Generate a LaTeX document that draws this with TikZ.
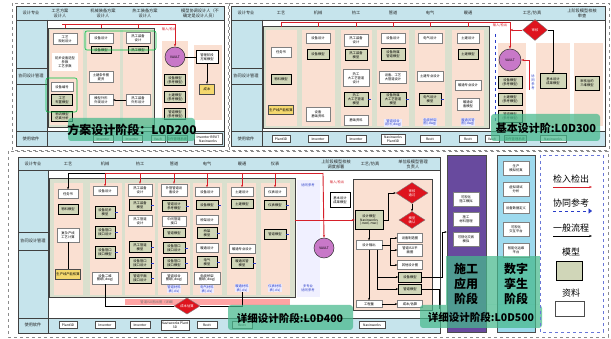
\documentclass[tikz,border=0pt]{standalone}
\usepackage{fontspec}
\newfontfamily\cjk{Noto Sans CJK SC}
\usetikzlibrary{shapes.geometric,shadows,arrows.meta}

\definecolor{hdrblue}{RGB}{198,228,236}
\definecolor{panelgray}{RGB}{218,224,206}
\definecolor{colpink}{RGB}{250,224,210}
\definecolor{mdlgreen}{RGB}{208,214,184}
\definecolor{linkred}{RGB}{214,32,42}
\definecolor{checkred}{RGB}{222,20,30}
\definecolor{vaultpurple}{RGB}{200,120,200}
\definecolor{bandteal}{RGB}{70,185,140}
\definecolor{buildpurple}{RGB}{104,74,158}
\definecolor{twincyan}{RGB}{158,218,238}
\definecolor{costyellow}{RGB}{244,216,110}
\definecolor{refblue}{RGB}{40,60,200}

\newcommand\tinycjk{\cjk\fontsize{3.3}{3.9}\selectfont}
\newcommand\hdrcjk{\cjk\fontsize{4.2}{4.9}\selectfont}

\tikzset{
  sz/.style 2 args={minimum width=#1pt, minimum height=#2pt},
  doc/.style={draw=black!50, fill=white, line width=0.3pt, font=\tinycjk, align=center, inner sep=0.3pt, sz={22}{9}},
  mdl/.style={draw=black, fill=mdlgreen, line width=0.5pt, font=\tinycjk, align=center, inner sep=0.3pt, sz={22}{10},
    drop shadow={shadow xshift=0.8pt, shadow yshift=-0.8pt, opacity=1, fill=black!80}},
  cost/.style={doc, draw=black!70, fill=costyellow},
  soft/.style={draw=black!70, fill=white, line width=0.4pt, font=\tinycjk, align=center, inner sep=0.3pt, sz={20}{7}},
  hdrtext/.style={font=\hdrcjk, align=center, text=black!85, inner sep=0pt},
  panel/.style={draw=black!75, fill=panelgray, line width=0.6pt},
  boxline/.style={draw=black!75, line width=0.5pt},
  vault/.style={circle, draw=black!80, fill=vaultpurple, line width=0.5pt, minimum size=20pt, inner sep=0pt, font=\tinycjk},
  check/.style={diamond, draw=black!50, fill=checkred, text=white, font=\tinycjk, align=center, inner sep=0pt},
  note/.style={fill=blue!8, text=refblue, font=\tinycjk, align=center, inner sep=0.4pt},
  redtext/.style={text=linkred, font=\tinycjk, inner sep=0pt},
  band/.style={fill=bandteal, fill opacity=0.72, rounded corners=3pt},
  redlink/.style={draw=linkred, line width=0.9pt},
  flow/.style={draw=black, line width=0.45pt, -{Stealth[length=2.4pt,width=2pt]}},
  refline/.style={draw=refblue, dashed, line width=0.35pt},
}

\begin{document}
\begin{tikzpicture}[x=1pt, y=-1pt]
\useasboundingbox[fill=white] (0,0) rectangle (611,339);

% ---------- 方案设计阶段 ----------
\draw[black!45, dashed, line width=0.3pt] (12,3) rectangle (228,150);
\fill[hdrblue] (16,6) rectangle (224,20);
\fill[hdrblue] (16,20) rectangle (47,146);
\fill[hdrblue] (47,131) rectangle (224,146);
\draw[boxline] (16,6) rectangle (224,146) (16,20) -- (224,20) (47,20) -- (47,146)
  (16,131) -- (224,131) (16,68) -- (47,68) (16,84) -- (47,84);
\node[hdrtext] (aSpecHd) at (31,13) {设计专业};
\node[hdrtext] (aProcHd) at (60,13) {工艺方案\\设计人};
\node[hdrtext] (aMechHd) at (103,13) {机械装备方案\\设计人};
\node[hdrtext] (aHeatHd) at (145,13) {热工装备方案\\设计人};
\node[hdrtext] (aCoordHd) at (200,13) {模型协调设计人（不\\确定是设计人员）};
\node[hdrtext] (aMgmtHd) at (31,76) {协同设计管理};
\node[hdrtext] (aSoftHd) at (31,139) {使用软件};

\draw[panel] (48,28) rectangle (154,127);
\fill[colpink] (50,30) rectangle (83,125);
\fill[colpink] (87,30) rectangle (120,125);
\fill[colpink] (123,30) rectangle (152,125);
\fill[colpink] (162,41) rectangle (188,120);
\fill[colpink] (194,45) rectangle (222,120);

\node[doc, sz={24}{11}] (aPlan) at (65,39) {工艺\\规划设计};
\node[doc, draw=none, sz={26}{18}] (aParam) at (65,62) {初步设备选型\\参数\\工艺参数};
\node[doc] (aCode) at (62,87) {设备编号};
\node[mdl, sz={21}{11}] (aLayout) at (62,100) {工艺\\布置模型};
\node[mdl, sz={21}{10}] (aFlowSim) at (62,116) {物流模型\\仿真分析};
\node[doc, sz={24}{10}] (aEquip) at (101,38) {设备设计};
\node[mdl, sz={20}{7}] (aEquipM) at (101,50) {设备模型};
\node[doc, sz={24}{11}] (aCivil) at (101,77) {土建条件图\\提资};
\node[doc, sz={24}{11}] (aShape) at (101,100) {模型外形\\外观设计};
\node[doc, sz={24}{11}] (aHeat) at (138,38) {热工装备\\设计};
\node[mdl, sz={20}{7}] (aHeatM) at (138,50) {热工模型};
\node[doc, sz={24}{11}] (aHeatS) at (138,100) {热工装备\\外形设计};
\draw[flow] (aHeatS) -- (aShape);
\draw[green!50!teal, line width=0.6pt, rounded corners=2pt] (85,31) rectangle (156,50) (46,78) rectangle (77,112);

\node[redtext] (aIO) at (169,29) {输入/检出};
\node[vault] (aVault) at (175,57) {VAULT};
\node[mdl, sz={21}{11}] (aRef1) at (175,80) {设备模型\\(参考模型)};
\node[mdl, sz={21}{11}] (aRef2) at (175,97) {土建模型\\(参考模型)};
\node[mdl, sz={21}{11}] (aRef3) at (175,114) {管道模型\\(参考模型)};
\node[mdl, fill=white, sz={22}{13}] (aStageM) at (207,57) {管理阶段\\方案模型};
\node[cost, sz={15}{10}] (aCost) at (207,89) {成本};
\draw[line width=0.6pt] (aVault) -- (aStageM);
\draw[flow] (aStageM) -- (aCost);

\coordinate (aBusL) at (62,24);
\coordinate (aBusR) at (175,24);
\draw[redlink] (aBusL) -- (aBusR);
\foreach \n in {aPlan,aEquip,aHeat} \draw[redlink] (\n.north |- aBusL) -- ++(0,4);
\draw[redlink, -{Stealth[length=3pt]}] (aBusR) -- (aVault.north);

\node[soft] (aSw1) at (103,139) {Inventor};
\node[soft] (aSw2) at (132,139) {Inventor};
\node[soft, sz={14}{7}] (aSw3) at (158,139) {Vault};
\node[soft, fill=bandteal!40, sz={19}{7}] (aSw4) at (177,139) {文件管理系统};
\node[soft, sz={28}{11}] (aSw5) at (208,139) {Inventor REVIT\\Navisworks};

\fill[band] (68,118) rectangle (195,141);
\node[font=\cjk\bfseries\fontsize{12}{12}\selectfont] (aStage) at (132,130) {方案设计阶段：L0D200};

% ---------- 基本设计阶段 ----------
\draw[black!45, dashed, line width=0.3pt] (229,3) rectangle (609,150);
\fill[hdrblue] (231,6) rectangle (605,20);
\fill[hdrblue] (231,20) rectangle (262,146);
\fill[hdrblue] (262,131) rectangle (605,146);
\draw[boxline] (231,6) rectangle (605,146) (231,20) -- (605,20) (262,20) -- (262,146)
  (231,131) -- (605,131) (231,68) -- (262,68) (231,84) -- (262,84);
\node[hdrtext] (bSpecHd) at (246,13) {设计专业};
\node[hdrtext] (bProcHd) at (281,13) {工艺};
\node[hdrtext] (bMechHd) at (318,13) {机械};
\node[hdrtext] (bHeatHd) at (356,13) {热工};
\node[hdrtext] (bPipeHd) at (393,13) {管道};
\node[hdrtext] (bElecHd) at (430,13) {电气};
\node[hdrtext] (bHvacHd) at (468,13) {暖通};
\node[hdrtext] (bSimHd) at (532,13) {工艺/仿真};
\node[hdrtext] (bCheckHd) at (582,13) {上阶段模型校核\\审查};
\node[hdrtext] (bMgmtHd) at (246,76) {协同设计管理};
\node[hdrtext] (bSoftHd) at (246,139) {使用软件};

\draw[panel] (263,26) rectangle (489,128);
\fill[colpink] (266,30) rectangle (297,126);
\fill[colpink] (302,30) rectangle (335,126);
\fill[colpink] (341,30) rectangle (372,126);
\fill[colpink] (377,30) rectangle (409,126);
\fill[colpink] (415,30) rectangle (445,126);
\fill[colpink] (452,30) rectangle (484,126);
\fill[colpink] (498,43) rectangle (526,126);
\fill[colpink] (536,43) rectangle (570,126);
\fill[colpink] (574,43) rectangle (603,126);

\node[doc, sz={20}{10}] (bTask) at (281,52) {任务书};
\node[mdl, sz={20}{10}] (bMat) at (281,79) {物料模型};
\node[cost, sz={25}{9}] (bCap) at (281,110) {生产线产能核算};
\node[doc, sz={24}{10}] (bEquip) at (318,38) {设备设计};
\node[mdl, sz={22}{10}] (bEquipM) at (318,54) {设备模型};
\node[doc, sz={24}{14}] (bEquipB) at (318,114) {设备\\基础资料};
\node[doc, sz={24}{12}] (bHeat) at (356,40) {热工装备\\设计};
\node[mdl, sz={22}{11}] (bHeatM) at (356,55) {热工装备\\模型};
\node[doc, sz={26}{17}] (bHeatP) at (356,78) {热工\\大工艺管道\\设计};
\node[mdl, sz={24}{14}] (bHeatPM) at (356,99) {热工\\大工艺管道\\模型};
\node[doc, sz={24}{10}] (bHeatB) at (356,120) {基础资料};
\node[doc, sz={24}{10}] (bPipe) at (393,38) {设备设计};
\node[mdl, sz={24}{12}] (bPipeM) at (393,54) {设备附属\\管道模型};
\node[doc, sz={27}{12}] (bPipeD) at (393,77) {设备、工艺\\大管道设计};
\node[mdl, sz={26}{14}] (bPipePM) at (393,99) {设备附属\\大工艺管道\\模型};
\node[note] (bPipeN) at (393,123) {管道综合\\设计(.dwg)};
\node[doc, sz={24}{10}] (bElec) at (430,38) {电气设计};
\node[doc, sz={26}{10}] (bElecD) at (430,76) {土建专业设计};
\node[mdl, sz={22}{12}] (bElecM) at (430,99) {电气设计\\模型};
\node[note] (bElecN) at (430,122) {电缆桥架\\图(.dwg)};
\node[doc, sz={22}{10}] (bCivil) at (468,38) {土建设计};
\node[mdl, sz={20}{10}] (bCivilM) at (468,54) {土建模型};
\node[doc, sz={26}{10}] (bHvac) at (468,85) {暖通专业设计};
\node[doc, sz={22}{12}] (bHvacM) at (468,104) {暖通设\\备模型};
\node[note] (bHvacN) at (468,122) {暖通风管\\图(.dwg)};
\foreach \n in {bHeatPM,bPipePM,bElecM} \draw[refline] (\n.east) -- ++(3,0);

\node[redtext] (bIO) at (500,25) {输入/检出};
\node[check, sz={25}{21}] (bChk) at (535,30) {审核};
\node[vault, minimum size=22pt] (bVault) at (510,60) {VAULT};
\node[mdl, sz={24}{12}] (bRef1) at (510,82) {设备模型\\(参考模型)};
\node[mdl, sz={24}{12}] (bRef2) at (510,99) {土建模型\\(参考模型)};
\node[mdl, sz={24}{12}] (bRef3) at (510,116) {管道模型\\(参考模型)};
\node[mdl, sz={26}{15}] (bBasic) at (553,81) {基本设计\\成果模型};
\node[mdl, sz={24}{14}] (bAudit) at (587,83) {审核后的\\三维模型};
\node[note, fill=none] (bRefN) at (533,82) {协\\同\\参\\考};

\coordinate (bBusL) at (281,22);
\coordinate (bBusR) at (510,22);
\coordinate (bTap) at (510,30);
\coordinate (bRet) at (529,90);
\coordinate (bRefT) at (495,34);
\coordinate (bRefB) at (495,122);
\draw[redlink] (bBusL) -- (bBusR);
\foreach \n in {bTask,bEquip,bHeat,bPipe,bElec,bCivil} \draw[redlink] (\n.north |- bBusL) -- ++(0,5);
\draw[redlink, -{Stealth[length=3pt]}] (bBusR) -- (bVault.north);
\draw[redlink, -{Stealth[length=3pt]}] (bChk.west) -- (bTap);
\draw[redlink, -{Stealth[length=3pt]}] (bRet) |- (bVault.east);
\draw[flow] (bChk.east) -| (bBasic.north);
\draw[refline] (bRefT) -- (bRefB);

\node[soft, sz={18}{7}] (bSw1) at (281,139) {Plant3D};
\node[soft] (bSw2) at (318,139) {Inventor};
\node[soft] (bSw3) at (356,139) {Inventor};
\node[soft, sz={24}{10}] (bSw4) at (393,139) {Navisworks\\Plant3D};
\node[soft] (bSw5) at (430,139) {Revit};
\node[soft, sz={18}{7}] (bSw6) at (468,139) {Revit};
\node[soft, sz={14}{7}] (bSw7) at (492,139) {Vault};
\node[soft, fill=bandteal!40, sz={22}{7}] (bSw8) at (515,139) {文件管理系统};
\node[soft, sz={26}{7}] (bSw9) at (553,139) {Navisworks};

\fill[band] (491,114) rectangle (600,141);
\node[font=\cjk\bfseries\fontsize{11}{11}\selectfont] (bStage) at (546,128) {基本设计阶:L0D300};

% ---------- 详细设计阶段 ----------
\draw[black!45, dashed, line width=0.3pt] (8,151) rectangle (608,337);
\fill[hdrblue] (18,157) rectangle (440,170);
\fill[hdrblue] (18,170) rectangle (48,333);
\fill[hdrblue] (48,318) rectangle (440,333);
\draw[boxline] (18,157) rectangle (440,333) (18,170) -- (440,170) (48,170) -- (48,333)
  (18,318) -- (440,318) (18,232) -- (48,232) (18,250) -- (48,250);
\node[hdrtext] (cSpecHd) at (33,164) {设计专业};
\node[hdrtext] (cProcHd) at (68,164) {工艺};
\node[hdrtext] (cMechHd) at (105,164) {机械};
\node[hdrtext] (cHeatHd) at (140,164) {热工};
\node[hdrtext] (cPipeHd) at (174,164) {管道};
\node[hdrtext] (cElecHd) at (207,164) {电气};
\node[hdrtext] (cHvacHd) at (242,164) {暖通};
\node[hdrtext] (cInstHd) at (275,164) {仪表};
\node[hdrtext] (cCheckHd) at (336,164) {上阶段模型校核\\调度部署};
\node[hdrtext] (cSimHd) at (370,164) {工艺/仿真};
\node[hdrtext] (cOwnerHd) at (413,164) {单位级模型管理\\负责人};
\node[hdrtext] (cMgmtHd) at (33,241) {协同设计管理};
\node[hdrtext] (cSoftHd) at (33,325) {使用软件};

\draw[panel] (49,178) rectangle (295,297);
\fill[colpink] (54,183) rectangle (83,295);
\fill[colpink] (90,183) rectangle (122,295);
\fill[colpink] (125,183) rectangle (155,295);
\fill[colpink] (158,183) rectangle (190,295);
\fill[colpink] (193,183) rectangle (222,295);
\fill[colpink] (227,183) rectangle (256,295);
\fill[colpink] (261,183) rectangle (290,295);
\fill[blue!6] (297,180) rectangle (320,297);

\node[doc, sz={20}{9}] (cTask) at (68,194) {任务书};
\node[mdl, sz={20}{10}] (cMat) at (68,209) {物料模型};
\node[doc, sz={22}{14}] (cLine) at (68,235) {复杂产线\\工艺计算};
\node[cost, sz={25}{10}] (cCap) at (68,274) {生产线产能核算};
\draw[line width=0.5pt] (cLine) -- (cCap);

\node[doc, sz={24}{9}] (cEquip) at (105,191) {设备设计};
\node[mdl, sz={20}{12}] (cEquipM) at (105,212) {设备初步\\模型};
\node[mdl, sz={20}{12}] (cEquipP1) at (105,232) {设备管口\\接口设计};
\node[mdl, sz={20}{12}] (cEquipP2) at (105,252) {设备管口\\接口模型};
\node[doc, sz={26}{12}] (cEquipDwg) at (105,278) {设备二维\\图纸(.dwg)};

\node[doc, sz={24}{12}] (cHeat) at (140,190) {热工装备\\设计};
\node[mdl, sz={22}{11}] (cHeatM) at (140,205) {热工装备\\模型};
\node[doc, sz={24}{11}] (cHeatP) at (140,221) {热工管道\\设计};
\node[mdl, sz={22}{11}] (cHeatPM) at (140,247) {热工管道\\模型};
\node[mdl, sz={22}{11}] (cHeatI1) at (140,263) {设备管口\\接口设计};
\node[mdl, sz={22}{11}] (cHeatI2) at (140,278) {管道平面\\接口设计};

\node[doc, sz={26}{12}] (cPipe) at (174,190) {外管管道设\\备设计};
\node[mdl, sz={24}{11}] (cPipeM) at (174,206) {管道设计\\参考模型};
\node[doc, sz={24}{10}] (cPipeC) at (174,221) {中间管道\\接口};
\node[mdl, sz={22}{9}] (cPipeM2) at (174,233) {管道模型};
\node[mdl, sz={22}{11}] (cPipeI1) at (174,248) {设备管口\\接口设计};
\node[mdl, sz={22}{11}] (cPipeI2) at (174,263) {设备管口\\接口模型};
\node[doc, sz={26}{12}] (cPipeDwg) at (174,278) {管道综合\\图纸(.dwg)};
\node[note] (cPipeN) at (174,289) {管道材料\\表(.xls)};

\node[doc, sz={24}{9}] (cElec) at (207,192) {设备设计};
\node[mdl, sz={22}{9}] (cElecM) at (207,205) {设备模型};
\node[doc, sz={22}{9}] (cTray) at (207,220) {桥架设计};
\node[mdl, sz={20}{11}] (cTrayM) at (207,233) {桥架\\模型};
\node[doc, sz={22}{9}] (cElecD) at (207,248) {暖通设计};
\node[mdl, sz={20}{11}] (cElecM2) at (207,262) {电气\\模型};
\node[doc, sz={26}{12}] (cElecDwg) at (207,278) {电缆桥架\\图纸(.dwg)};
\node[note] (cElecN) at (207,289) {电气材料\\表(.xls)};

\node[doc, sz={22}{9}] (cCivil) at (242,192) {土建设计};
\node[mdl, sz={22}{9}] (cCivilM) at (242,204) {土建模型};
\node[doc, sz={26}{9}] (cHvac) at (242,249) {暖通专业设计};
\node[mdl, sz={22}{11}] (cHvacM) at (242,263) {暖通风管\\模型};
\node[note] (cHvacN) at (242,288) {暖通材料\\表(.xls)};

\node[doc, sz={22}{9}] (cInst) at (275,192) {仪表设计};
\node[mdl, sz={22}{9}] (cInstM) at (275,205) {仪表模型};
\node[mdl, sz={22}{10}] (cInstP) at (275,234) {管道模型};
\node[note] (cInstN) at (275,288) {仪表材料\\表(.xls)};
\node[note, fill=none] (cRefT) at (308,185) {协同参考};
\node[note, fill=none] (cRefB) at (308,288) {多专业\\协同参考};

\foreach \n in {cEquipM,cEquipP1,cEquipP2,cHeatM,cHeatPM,cHeatI1,cHeatI2,cPipeM,cPipeI1,cPipeI2,cElecM,cTrayM,cElecM2,cHvacM,cInstM,cInstP}
  \draw[refline] (\n.east) -- ++(3,0);

\fill[red!45, opacity=0.8] (125,299) rectangle (290,305);
\node[font=\tinycjk, text=black!55] (cIsoN) at (158,302) {管道ISO图出图（详细）};
\node[check, sz={26}{14}] (cCost) at (187,306) {成本估算};
\draw[line width=0.5pt] (cEquipDwg.south) |- (cCost.west);
\draw[line width=0.5pt] (cHvacN.south) |- (cCost.east);

\node[vault] (cVault) at (324,248) {VAULT};
\node[redtext] (cIO) at (337,182) {输入/检出};
\node[mdl, fill=white, sz={20}{15}] (cBasic) at (340,200) {基本设计\\成果模型};

\draw[boxline, fill=colpink, line width=0.7pt] (353,179) rectangle (432,310);
\node[mdl, sz={28}{19}] (cNwd) at (369,220) {设计模型\\Navisworks\\(.nwd,.nwc)};
\node[check, sz={32}{21}] (cChk1) at (412,193) {审核\\通过};
\node[check, sz={26}{17}] (cChk2) at (412,220) {模型\\确认};
\node[doc, sz={26}{9}] (cOut) at (369,245) {设计输出};
\node[doc, sz={26}{7}] (cQty) at (369,304) {工程量};
\node[doc, sz={25}{9}] (cDwg1) at (410,238) {设备制造图};
\node[doc, sz={25}{12}] (cDwg2) at (410,250) {管道ISO平\\面图};
\node[doc, sz={25}{9}] (cDwg3) at (410,265) {其他设计图};
\node[mdl, sz={23}{10}] (cMod1) at (410,277) {设备模型};
\node[mdl, sz={23}{10}] (cMod2) at (410,289) {管道模型};
\node[doc, sz={25}{7}] (cCostOut) at (410,304) {成本/估算};

\draw[flow] (cNwd.east) -- ++(5,0) |- (cChk1.west);
\draw[flow] (cChk1.south) -- (cChk2.north);
\draw[flow] (cNwd.south) -- (cOut.north);
\draw[flow] (cOut.south) -- (cQty.north);
\foreach \n in {cDwg1,cDwg2,cDwg3} \draw[flow] (cOut.east) -- ++(8,0) |- (\n.west);
\foreach \n in {cMod1,cMod2} \draw[flow] ([xshift=8pt]cOut.south) |- (\n.west);
\draw[flow] (cQty) -- (cCostOut);

\coordinate (cBusL) at (105,173);
\coordinate (cBusR) at (323,173);
\coordinate (cPanelE) at (295,220);
\draw[flow] (cBusL) -| (cTask.north);
\draw[redlink] (cBusL) -- (cBusR);
\foreach \n in {cEquip,cHeat,cPipe,cElec,cCivil,cInst} \draw[redlink, -{Stealth[length=2.5pt]}] (\n.north |- cBusL) -- (\n.north);
\draw[redlink, -{Stealth[length=3pt]}] (cBusR) -- (cVault.north);
\draw[redlink, -{Stealth[length=3pt]}] (cPanelE) -- (cNwd.west);

% 施工应用 / 数字孪生
\node[draw=black!70, fill=buildpurple, sz={39}{177}, inner sep=0pt] (cBuild) at (466.5,243.5) {};
\node[doc, sz={26}{14}] (dBuild1) at (466,199) {可视化\\施工模拟};
\node[doc, sz={26}{14}] (dBuild2) at (466,219) {施工\\材料管理};
\node[doc, sz={26}{14}] (dBuild3) at (466,239) {可视化交底\\模拟};
\node[draw=black!70, fill=twincyan, sz={38}{177}, inner sep=0pt] (cTwin) at (516,243.5) {};
\node[doc, sz={26}{14}] (eTwin1) at (516,168) {生产\\模拟仿真};
\node[doc, sz={26}{14}] (eTwin2) at (516,189) {虚拟调试\\分析};
\node[doc, sz={26}{11}] (eTwin3) at (516,208) {设备数据定义};
\node[doc, sz={26}{14}] (eTwin4) at (516,229) {可视化\\交互平台};
\node[doc, sz={26}{14}] (eTwin5) at (516,250) {智能化运维\\平台};
\draw[flow] (cMod1.east) -- ++(20,0) |- ([yshift=11.5pt]cBuild.west);
\draw[line width=0.45pt] (cMod2.east) -- ++(17,0) -- ++(0,20);

\node[soft, sz={18}{7}] (cSw1) at (68,325) {Plant3D};
\node[soft] (cSw2) at (105,325) {Inventor};
\node[soft] (cSw3) at (140,325) {Inventor};
\node[soft, sz={28}{10}] (cSw4) at (175,325) {Navisworks Plant\\3D};
\node[soft] (cSw5) at (207,325) {Revit};
\node[soft] (cSw6) at (242,325) {Revit};
\node[soft, sz={26}{7}] (cSw7) at (372,325) {Navisworks};

\fill[band, rounded corners=0pt] (446,256) rectangle (540,305);
\node[font=\cjk\bfseries\fontsize{12}{15}\selectfont, align=center] (dBuildT) at (466,284) {施工\\应用\\阶段};
\node[font=\cjk\bfseries\fontsize{12}{15}\selectfont, align=center] (eTwinT) at (516,284) {数字\\孪生\\阶段};
\fill[band] (228,305) rectangle (353,330);
\node[font=\cjk\bfseries\fontsize{10.5}{11}\selectfont] (cStage4) at (290,318) {详细设计阶段:L0D400};
\fill[band] (420,305) rectangle (542,328);
\node[font=\cjk\bfseries\fontsize{10.5}{11}\selectfont] (cStage5) at (481,317) {详细设计阶段:L0D500};

% 图例
\draw[refblue!70, dashed, line width=0.5pt] (540,155) rectangle (603,332);
\node[font=\cjk\fontsize{9}{9}\selectfont] (lgIn) at (571,179) {检入检出};
\node[font=\cjk\fontsize{9}{9}\selectfont] (lgRef) at (571,203) {协同参考};
\node[font=\cjk\fontsize{9}{9}\selectfont] (lgFlow) at (571,228) {一般流程};
\node[font=\cjk\fontsize{9}{9}\selectfont] (lgMdl) at (571,252) {模型};
\node[mdl, sz={26}{19}] (lgMdlBox) at (569,271) {};
\node[font=\cjk\fontsize{9}{9}\selectfont] (lgDoc) at (571,293) {资料};
\node[doc, draw=black!70, sz={29}{15}] (lgDocBox) at (570,309) {};
\coordinate (lgInA) at (553,187);
\coordinate (lgInB) at (592,187);
\coordinate (lgRefA) at (553,211);
\coordinate (lgRefB) at (592,211);
\coordinate (lgFlowA) at (553,236);
\coordinate (lgFlowB) at (592,236);
\draw[redlink, -{Stealth[length=3pt]}] (lgInA) -- (lgInB);
\draw[refline, line width=0.7pt, -{Triangle[length=3.5pt]}] (lgRefA) -- (lgRefB);
\draw[line width=0.7pt, -{Stealth[length=3pt]}] (lgFlowA) -- (lgFlowB);
\end{tikzpicture}
\end{document}
